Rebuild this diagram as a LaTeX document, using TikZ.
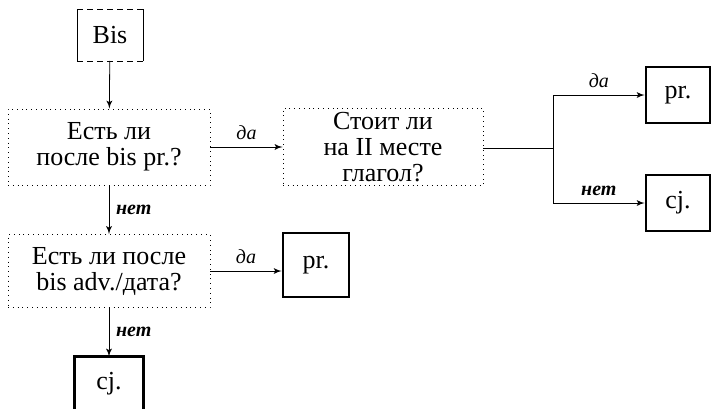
\documentclass[tikz,border=0pt]{standalone}
\usepackage{fontspec}
\setmainfont{Liberation Serif}
\usepackage{tikz}
\usetikzlibrary{arrows, positioning, shapes}

\tikzset{
  question/.style={draw, dotted, align=center, minimum width=101pt, minimum height=38pt, inner sep=2pt},
  answer/.style={draw, line width=1.3pt, minimum width=33pt, minimum height=28pt},
  yes/.style={above, font=\itshape},
  no/.style={font=\bfseries\itshape}
}

\begin{document}
\begin{tikzpicture}[x=0.5pt, y=-0.5pt, font=\fontsize{13}{13}\selectfont]

\useasboundingbox (0,0) rectangle (712,408);

\node [minimum width=32.5pt, minimum height=25.5pt] (bis) at (110,35)  {Bis};
\node [question                                  ] (q1)  at (109,147) {Есть ли\\после bis pr.?};
\node [question, minimum width=100pt             ] (q2)  at (383,147) {Стоит ли\\на II месте\\глагол?};
\node [question, minimum height=36.5pt           ] (q3)  at (109,271) {Есть ли после\\bis adv./дата?};
\node [answer, minimum width=32pt                ] (pr1) at (678,95)  {pr.};
\node [answer, minimum width=32pt                ] (cj1) at (678,203) {cj.};
\node [answer, minimum height=32pt               ] (pr2) at (316,265) {pr.};
\node [minimum width=34pt, minimum height=27pt   ] (cj2) at (109,384) {cj.};

% the Bis frame: solid sides, dashed top and bottom
\draw (bis.north west) -- (bis.south west) (bis.north east) -- (bis.south east);
\draw [densely dashed] (bis.north west) -- (bis.north east) (bis.south west) -- (bis.south east);
\draw [line width=1.3pt] (cj2.south west) -- (cj2.north west) -- (cj2.north east) -- (cj2.south east);

\coordinate (fork)    at (553,148);
\coordinate (forktop) at (553,95);
\coordinate (forkbot) at (553,203);

\path [draw, -latex'] (bis) edge (q1);
\path [draw, -latex'] (q1)  edge node [yes] {да} (q2);
\path [draw, -latex'] (q1)  edge node [no, right] {нет} (q3);
\draw [-latex'] (q3.east) -- node [yes] {да} (q3.east -| pr2.west);
\path [draw, -latex'] (q3)  edge node [no, right] {нет} (cj2);

\draw (q2.east |- fork) -- (fork);
\draw (forktop) -- (forkbot);
\draw [-latex'] (forktop) -- node [yes] {да} (pr1);
\draw [-latex'] (forkbot) -- node [yes, font=\bfseries\itshape] {нет} (cj1);

\end{tikzpicture}
\end{document}
